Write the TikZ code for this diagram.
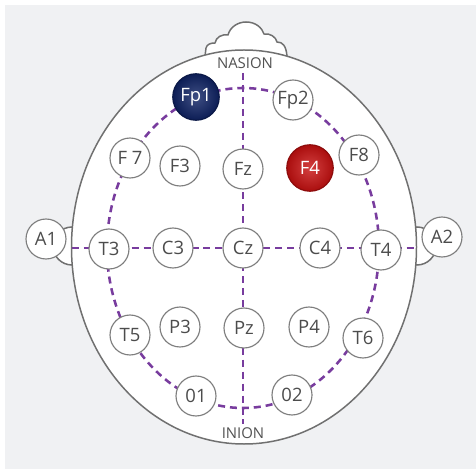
\documentclass[tikz,border=0pt]{standalone}
\usepackage{fontspec}
\setmainfont{Open Sans}
\definecolor{panel}{RGB}{240,241,243}
\definecolor{outline}{RGB}{112,112,112}
\definecolor{lead}{RGB}{120,60,158}
\definecolor{navyel}{RGB}{14,34,100}
\definecolor{redel}{RGB}{200,16,16}
\tikzset{
  electrode/.style={circle, draw=outline!90, fill=white, line width=0.65pt,
    minimum size=0.8cm, inner sep=0pt, text=black!70, font=\fontsize{10.5}{12}\selectfont},
  glossy/.style={electrode, minimum size=0.93cm, draw=#1!70!black, text=white,
    inner color=#1!80!white, outer color=#1!85!black},
  leadline/.style={draw=lead, line width=1.45pt, dash pattern=on 4pt off 2.8pt},
  landmark/.style={text=black!68, font=\fontsize{8.5}{10}\selectfont, inner sep=0pt}
}
\begin{document}
\begin{tikzpicture}[x=0.02cm, y=-0.02cm]
\useasboundingbox (0,0) rectangle (476,469);
\fill[white] (0,0) rectangle (476,469);
\fill[panel] (5,5) rectangle (476,469);

% ears and nose behind the head
\draw[outline, line width=0.85pt, fill=white] (72,246) circle (19);
\draw[outline, line width=0.85pt, fill=white] (417,246) circle (19);
\draw[outline, line width=0.85pt, fill=white] (205,56) -- (206,48)
  .. controls (207,44) and (211,43) .. (215,43)
  .. controls (216,37) and (222,34) .. (228,35)
  .. controls (230,27) and (238,22) .. (246,22)
  .. controls (256,22) and (262,28) .. (264,34)
  .. controls (270,33) and (276,37) .. (277,42)
  .. controls (283,42) and (286,46) .. (287,56) -- cycle;

% head
\draw[outline, line width=0.85pt, fill=white] (244,247) ellipse [x radius=172.5, y radius=197];

\node[landmark] (nasion) at (245,63) {NASION};
\node[landmark] (inion) at (243,433) {INION};

\coordinate (top) at (243,73);
\coordinate (bottom) at (243,424);
\coordinate (left) at (72,248);
\coordinate (right) at (417,248);

% 10-20 lines
\draw[leadline] (top) -- (bottom);
\draw[leadline] (left) -- (right);
\draw[leadline] (243,248) ellipse [x radius=136, y radius=160];

% electrodes
\node[glossy=navyel] (Fp1) at (196,97) {Fp1};
\node[electrode] (Fp2) at (293,100) {Fp2};
\node[electrode] (F7) at (130,158) {F 7};
\node[electrode] (F3) at (180,166) {F3};
\node[electrode] (Fz) at (243,169) {Fz};
\node[glossy=redel] (F4) at (310,168) {F4};
\node[electrode] (F8) at (359,155) {F8};
\node[electrode] (A1) at (46,239) {A1};
\node[electrode] (T3) at (109,249) {T3};
\node[electrode] (C3) at (173,248) {C3};
\node[electrode] (Cz) at (243,248) {Cz};
\node[electrode] (C4) at (320,248) {C4};
\node[electrode] (T4) at (381,250) {T4};
\node[electrode] (A2) at (442,237) {A2};
\node[electrode] (T5) at (130,335) {T5};
\node[electrode] (P3) at (180,327) {P3};
\node[electrode] (Pz) at (244,328) {Pz};
\node[electrode] (P4) at (309,327) {P4};
\node[electrode] (T6) at (363,338) {T6};
\node[electrode] (O1) at (196,396) {01};
\node[electrode] (O2) at (292,395) {02};
\end{tikzpicture}
\end{document}
